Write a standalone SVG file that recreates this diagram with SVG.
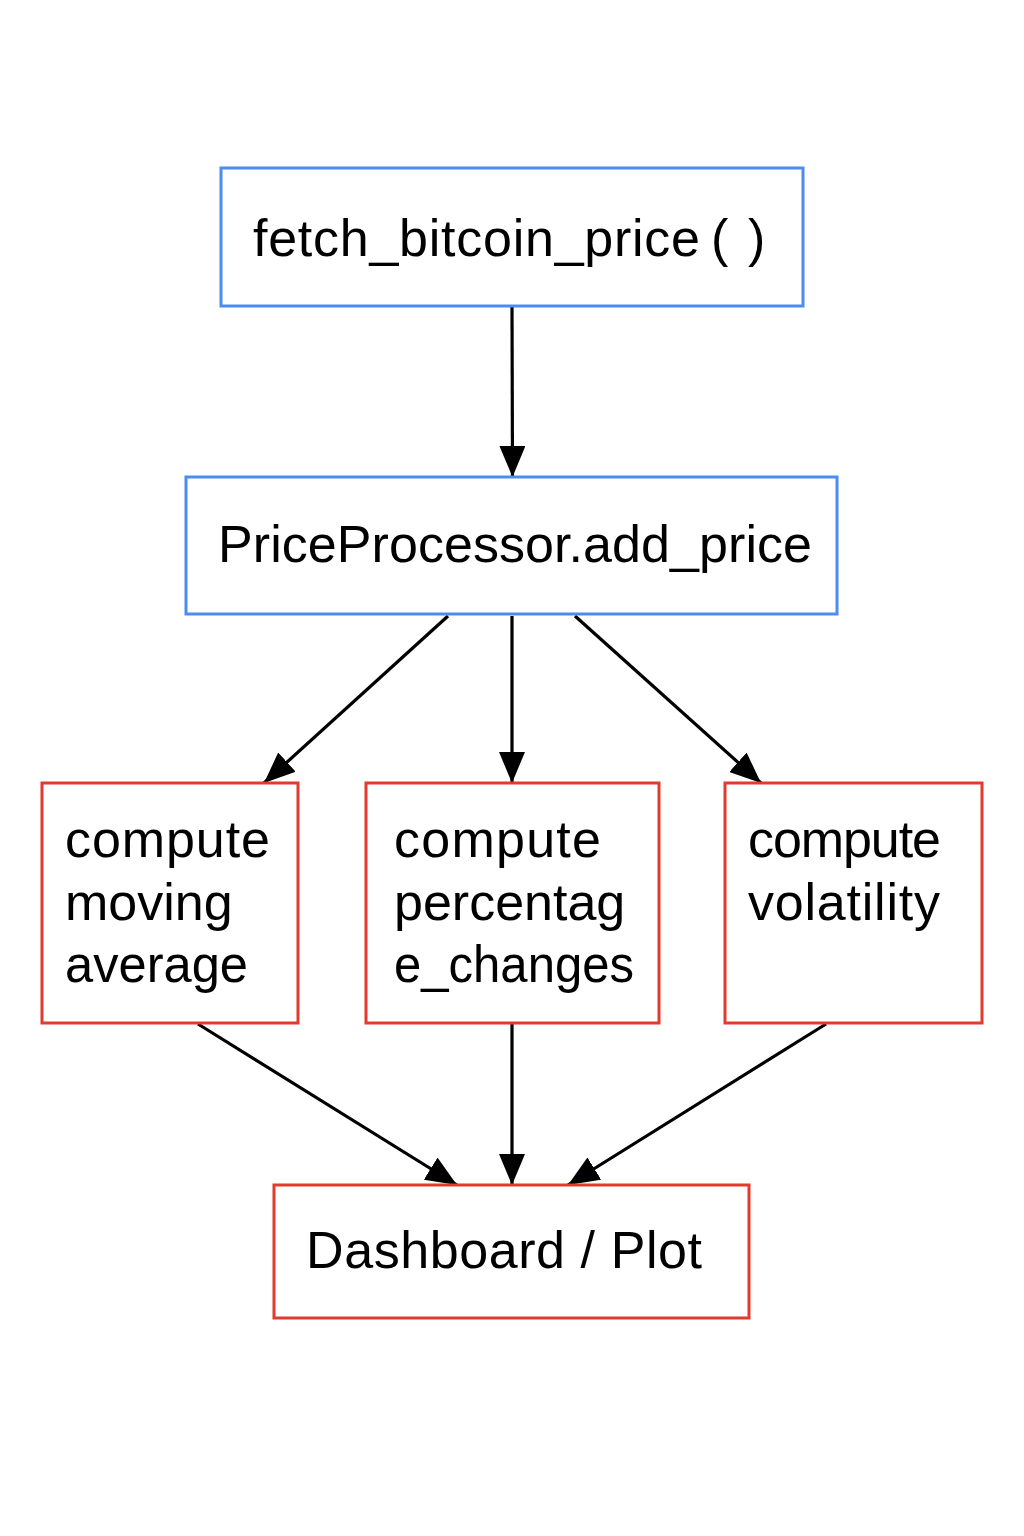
<svg xmlns="http://www.w3.org/2000/svg" width="1024" height="1536" viewBox="0 0 1024 1536">
<defs>
<style>
.blue{fill:#ffffff;stroke:#4a8cf0;stroke-width:3}
.red{fill:#ffffff;stroke:#e23b2e;stroke-width:3}
.t{font-family:"Liberation Sans",Arial,sans-serif;font-size:52px;fill:#000000}
.edge{stroke:#000000;stroke-width:3.2;fill:none;marker-end:url(#ah)}
</style>
<marker id="ah" markerUnits="userSpaceOnUse" markerWidth="34" markerHeight="28" refX="31" refY="13" orient="auto">
<path d="M0,0 L31,13 L0,26 Z" fill="#000000"/>
</marker>
</defs>
<rect width="1024" height="1536" fill="#ffffff"/>
<g id="connectors">
<line class="edge" x1="512" y1="307" x2="512.5" y2="477"/>
<line class="edge" x1="448" y1="616" x2="264" y2="783"/>
<line class="edge" x1="512" y1="616" x2="512" y2="783"/>
<line class="edge" x1="575" y1="616" x2="761" y2="783"/>
<line class="edge" x1="198" y1="1024" x2="457" y2="1185"/>
<line class="edge" x1="512" y1="1024" x2="512" y2="1185"/>
<line class="edge" x1="826" y1="1024" x2="568" y2="1185"/>
</g>
<g id="fetch">
<rect class="blue" x="221" y="168" width="582" height="138"/>
<text class="t" y="256"><tspan x="253" textLength="447" lengthAdjust="spacing">fetch_bitcoin_price</tspan><tspan x="711">(</tspan><tspan x="748">)</tspan></text>
</g>
<g id="add_price">
<rect class="blue" x="186" y="477" width="651" height="137"/>
<text class="t" x="218" y="562" textLength="594" lengthAdjust="spacing">PriceProcessor.add_price</text>
</g>
<g id="moving_average">
<rect class="red" x="42" y="783" width="256" height="240"/>
<text class="t" x="65" y="857" textLength="205" lengthAdjust="spacing">compute</text>
<text class="t" x="65" y="920">moving</text>
<text class="t" x="65" y="982" textLength="183" lengthAdjust="spacingAndGlyphs">average</text>
</g>
<g id="percentage_changes">
<rect class="red" x="366" y="783" width="293" height="240"/>
<text class="t" x="394" y="857" textLength="207" lengthAdjust="spacing">compute</text>
<text class="t" x="394" y="920">percentag</text>
<text class="t" x="394" y="982" textLength="240" lengthAdjust="spacingAndGlyphs">e_changes</text>
</g>
<g id="volatility">
<rect class="red" x="725" y="783" width="257" height="240"/>
<text class="t" x="748" y="857" textLength="193" lengthAdjust="spacing">compute</text>
<text class="t" x="748" y="920" textLength="192" lengthAdjust="spacing">volatility</text>
</g>
<g id="dashboard">
<rect class="red" x="274" y="1185" width="475" height="133"/>
<text class="t" x="306" y="1268" textLength="396" lengthAdjust="spacing">Dashboard / Plot</text>
</g>
</svg>
